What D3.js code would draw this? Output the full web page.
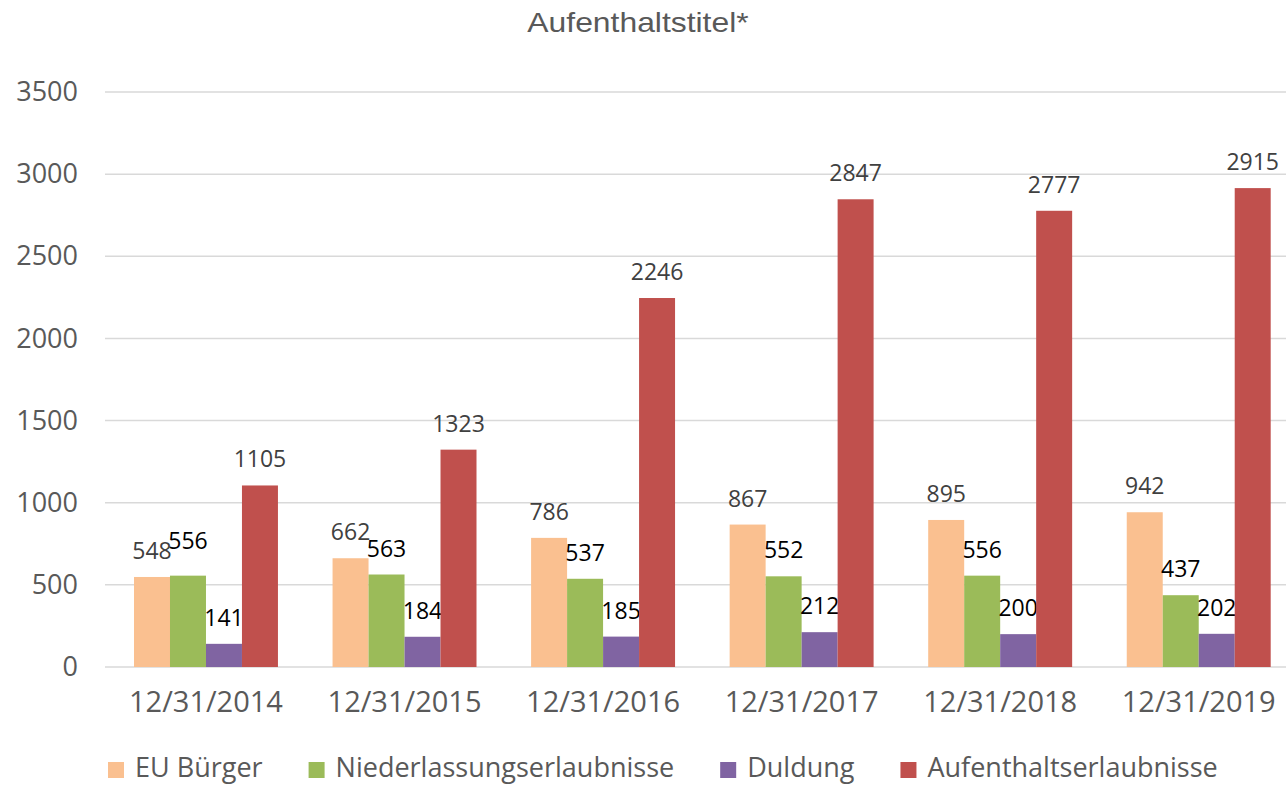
<!DOCTYPE html>
<html>
<head>
<meta charset="utf-8">
<script src="https://cdn.jsdelivr.net/npm/d3@7"></script>
<style>
  body { margin: 0; background: #fff; }
  svg { display: block; }
</style>
</head>
<body>
<div id="chart"></div>
<script>
// Data
var dates = ["12/31/2014", "12/31/2015", "12/31/2016", "12/31/2017", "12/31/2018", "12/31/2019"];
var seriesNames = ["EU Bürger", "Niederlassungserlaubnisse", "Duldung", "Aufenthaltserlaubnisse"];
var euBuerger = [548, 662, 786, 867, 895, 942];
var niederlassung = [556, 563, 537, 552, 556, 437];
var duldung = [141, 184, 185, 212, 200, 202];
var aufenthalt = [1105, 1323, 2246, 2847, 2777, 2915];
var yTicks = [0, 500, 1000, 1500, 2000, 2500, 3000, 3500];

var seriesValues = [euBuerger, niederlassung, duldung, aufenthalt];
var colors = ["#FAC090", "#9BBB59", "#8064A2", "#C0504D"];
var labelColors = ["#404040", "#000000", "#000000", "#404040"];

var width = 1286, height = 787;
var svg = d3.select("#chart").append("svg")
    .attr("width", width)
    .attr("height", height);

var x0 = d3.scaleBand()
    .domain(dates)
    .range([106.7, 1298])
    .paddingInner(0.275)
    .paddingOuter(0.1375);

var x1 = d3.scaleBand()
    .domain(seriesNames)
    .range([0, x0.bandwidth()]);

var y = d3.scaleLinear()
    .domain([0, 3500])
    .range([667, 92]);

// Title (the reference font is a bit wider than Liberation Sans)
svg.append("text")
    .attr("transform", "translate(638,32) scale(1.18,1)")
    .attr("text-anchor", "middle")
    .style("font-family", "'Liberation Sans', Arial, sans-serif")
    .style("font-size", "27px")
    .style("fill", "#595959")
    .text("Aufenthaltstitel*");

// Gridlines
svg.append("g").selectAll("line")
    .data(yTicks)
    .join("line")
    .attr("x1", 105)
    .attr("x2", width)
    .attr("y1", function(d) { return y(d); })
    .attr("y2", function(d) { return y(d); })
    .attr("stroke", "#D9D9D9")
    .attr("stroke-width", 1.5);

// Y axis labels
var yAxis = d3.axisLeft(y).tickValues(yTicks).tickFormat(d3.format("d")).tickSize(0).tickPadding(0);
var yAxisGroup = svg.append("g")
    .attr("transform", "translate(78,0)")
    .call(yAxis);
yAxisGroup.select(".domain").remove();
yAxisGroup.selectAll("text")
    .style("font-family", "'Open Sans', sans-serif")
    .style("font-size", "27px")
    .style("fill", "#595959");

// X axis labels
var xAxis = d3.axisBottom(x0).tickSize(0).tickPadding(0);
var xAxisGroup = svg.append("g")
    .attr("transform", "translate(0,691)")
    .call(xAxis);
xAxisGroup.select(".domain").remove();
xAxisGroup.selectAll("text")
    .style("font-family", "'Open Sans', sans-serif")
    .style("font-size", "29px")
    .style("fill", "#595959");

// Bars
var groups = svg.append("g").selectAll("g")
    .data(dates)
    .join("g")
    .attr("transform", function(d) { return "translate(" + x0(d) + ",0)"; });

// label nudged up in the original (first green bar)
function labelNudge(si, i) { return (si === 1 && i === 0) ? -9 : 0; }

seriesNames.forEach(function(name, si) {
    groups.append("rect")
        .attr("x", x1(name))
        .attr("width", x1.bandwidth())
        .attr("y", function(d, i) { return y(seriesValues[si][i]); })
        .attr("height", function(d, i) { return y(0) - y(seriesValues[si][i]); })
        .attr("fill", colors[si]);

    groups.append("text")
        .attr("x", x1(name) + x1.bandwidth() / 2)
        .attr("y", function(d, i) { return y(seriesValues[si][i]) - 18 + labelNudge(si, i); })
        .attr("text-anchor", "middle")
        .style("font-family", "'Open Sans', sans-serif")
        .style("font-size", "23px")
        .style("fill", labelColors[si])
        .text(function(d, i) { return seriesValues[si][i]; });
});

// Legend
var legend = svg.append("g").attr("transform", "translate(108,768)");
var lx = 0;
seriesNames.forEach(function(name, si) {
    var item = legend.append("g").attr("transform", "translate(" + lx + ",0)");
    item.append("rect")
        .attr("x", 0)
        .attr("y", -6)
        .attr("width", 16)
        .attr("height", 16)
        .attr("fill", colors[si]);
    var t = item.append("text")
        .attr("x", 27)
        .attr("y", 0)
        .attr("dy", "0.35em")
        .style("font-family", "'Open Sans', sans-serif")
        .style("font-size", "27px")
        .style("fill", "#595959")
        .text(name);
    lx += 27 + t.node().getComputedTextLength() + 46;
});
</script>
</body>
</html>
